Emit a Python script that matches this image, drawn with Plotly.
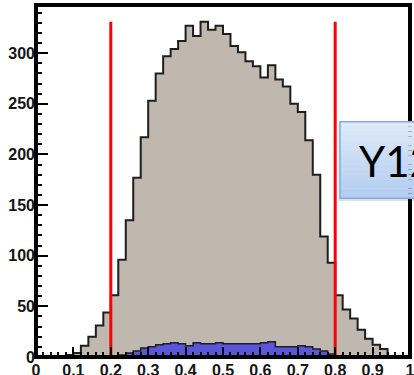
import numpy as np
import plotly.graph_objects as go

# Binning of the variable shown on x (50 bins on [0, 1])
n_bins = 50
x_min, x_max = 0.0, 1.0

# Counts per bin: all candidates, and the selected subset
all_counts = [
    0, 0, 0, 1, 2, 4, 11, 20, 31, 44,
    61, 96, 135, 177, 217, 253, 280, 297, 304, 312,
    327, 317, 331, 323, 327, 319, 307, 301, 292, 287,
    276, 288, 274, 267, 250, 242, 214, 180, 119, 93,
    61, 47, 38, 27, 18, 12, 8, 0, 0, 0,
]
selected_counts = [
    0, 0, 0, 0, 0, 0, 0, 0, 0, 0,
    1, 2, 4, 6, 9, 10, 12, 13, 14, 13,
    11, 14, 13, 13, 14, 13, 13, 13, 13, 13,
    14, 15, 10, 10, 10, 11, 10, 8, 6, 3,
    1, 1, 0, 0, 0, 0, 0, 0, 0, 0,
]

# Selection window drawn as vertical cut lines
cut_values = [0.2, 0.8]

# Axis ticks
x_ticks = [0, 0.1, 0.2, 0.3, 0.4, 0.5, 0.6, 0.7, 0.8, 0.9, 1.0]
x_tick_labels = ["0", "0.1", "0.2", "0.3", "0.4", "0.5", "0.6", "0.7", "0.8", "0.9", "1"]
y_ticks = [0, 50, 100, 150, 200, 250, 300]
y_tick_labels = ["0", "50", "100", "150", "200", "250", "300"]

box_label = "Y12"

edges = np.linspace(x_min, x_max, n_bins + 1)


def step_xy(counts):
    """Bin edges and counts arranged for an 'hv' step outline."""
    return list(edges), list(counts) + [counts[-1]]


fig = go.Figure()

gx, gy = step_xy(all_counts)
fig.add_trace(go.Scatter(
    x=gx, y=gy, mode="lines", line=dict(shape="hv", color="#1e1e1e", width=2),
    fill="tozeroy", fillcolor="#c0b8ae", hoverinfo="skip", showlegend=False,
))

bx, by = step_xy(selected_counts)
fig.add_trace(go.Scatter(
    x=bx, y=by, mode="lines", line=dict(shape="hv", color="#1e1e1e", width=1.5),
    fill="tozeroy", fillcolor="#5a56da", hoverinfo="skip", showlegend=False,
))

cut_height = max(all_counts)
for cv in cut_values:
    fig.add_trace(go.Scatter(
        x=[cv, cv], y=[0, cut_height], mode="lines",
        line=dict(color="#ff0000", width=3), hoverinfo="skip", showlegend=False,
    ))

tick_font = dict(family="Liberation Sans, Arial, sans-serif", size=16,
                 color="#151515", weight="bold")

fig.update_xaxes(
    range=[x_min, x_max], showgrid=False, zeroline=False, showline=False,
    automargin=False,
    tickmode="array", tickvals=x_ticks, ticktext=x_tick_labels,
    ticks="inside", ticklen=10, tickwidth=2, tickcolor="black",
    minor=dict(ticks="inside", ticklen=5, tickwidth=2, tickcolor="black",
               tick0=0, dtick=0.02, showgrid=False),
    tickfont=tick_font, ticklabelstandoff=2, ticklabeloverflow="allow",
)
fig.update_yaxes(
    range=[0, 1.05 * max(all_counts)], showgrid=False, zeroline=False, showline=False,
    automargin=False,
    tickmode="array", tickvals=y_ticks, ticktext=y_tick_labels,
    ticks="inside", ticklen=12, tickwidth=2, tickcolor="black",
    minor=dict(ticks="inside", ticklen=6, tickwidth=2, tickcolor="black",
               tick0=0, dtick=10, showgrid=False),
    tickfont=tick_font, ticklabeloverflow="allow",
)

shapes = []
# Thick frame around the plotting area
shapes.append(dict(type="rect", xref="paper", yref="paper", x0=0, x1=1, y0=0, y1=1,
                   line=dict(color="black", width=4), fillcolor="rgba(0,0,0,0)",
                   layer="above"))

# Label box with a soft vertical blue gradient
bx0, bx1, by0, by1 = 0.8128, 1.10, 0.451, 0.668
shapes.append(dict(type="rect", xref="paper", yref="paper",
                   x0=bx0 - 0.004, x1=bx1, y0=by0 - 0.008, y1=by1 - 0.006,
                   line=dict(width=0), fillcolor="rgba(0,0,0,0.12)", layer="above"))
top_rgb = np.array([222, 234, 250])
bot_rgb = np.array([178, 205, 241])
n_strips = 16
for i in range(n_strips):
    t = i / (n_strips - 1)
    c = (top_rgb * (1 - t) + bot_rgb * t).astype(int)
    ya = by1 - (by1 - by0) * i / n_strips
    yb = by1 - (by1 - by0) * (i + 1) / n_strips
    shapes.append(dict(type="rect", xref="paper", yref="paper",
                       x0=bx0, x1=bx1, y0=yb, y1=ya, line=dict(width=0),
                       fillcolor=f"rgb({c[0]},{c[1]},{c[2]})", layer="above"))
shapes.append(dict(type="rect", xref="paper", yref="paper",
                   x0=bx0, x1=bx1, y0=by0, y1=by1,
                   line=dict(color="#86aadb", width=1.5), fillcolor="rgba(0,0,0,0)",
                   layer="above"))

fig.update_layout(
    width=414, height=375,
    margin=dict(l=36, r=4, t=5, b=18),
    paper_bgcolor="white", plot_bgcolor="white",
    shapes=shapes,
    annotations=[dict(
        text=box_label, xref="paper", yref="paper", x=0.857, y=0.557,
        xanchor="left", yanchor="middle", showarrow=False,
        font=dict(family="Lato, sans-serif", size=42, color="black"),
    )],
)

fig.write_html("out.html")
